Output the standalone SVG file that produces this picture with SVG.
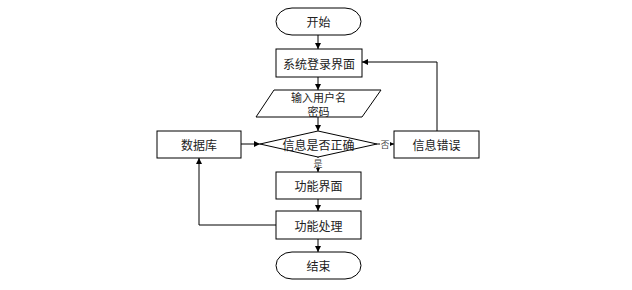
<svg xmlns="http://www.w3.org/2000/svg" width="632" height="290" viewBox="0 0 632 290">
<style>
.s{fill:#fff;stroke:#000;stroke-width:1}
.t{font-family:"Noto Sans CJK SC","Noto Sans",sans-serif;font-size:12px;fill:#222;text-anchor:middle;dominant-baseline:central}
.m{font-size:11px}
.l{font-family:"Noto Sans CJK SC","Noto Sans",sans-serif;font-size:9px;fill:#444;text-anchor:middle;dominant-baseline:central}
.c{fill:none;stroke:#000;stroke-width:1;marker-end:url(#a)}
</style>
<defs>
<marker id="a" markerUnits="userSpaceOnUse" markerWidth="8" markerHeight="8" refX="6" refY="3" orient="auto">
<path d="M0,0 L6,3 L0,6 Z" fill="#000"/>
</marker>
</defs>
<rect width="632" height="290" fill="#fff"/>
<g id="connectors">
<path class="c" d="M318,35 V49"/>
<path class="c" d="M318,77 V90"/>
<path class="c" d="M318,117 V131"/>
<path class="c" d="M318,157 V172"/>
<path class="c" d="M318,199 V211"/>
<path class="c" d="M318,239 V252"/>
<path class="c" d="M241,144 H260"/>
<path class="c" d="M377,144 H394"/>
<path class="c" d="M437,131 V62 H362"/>
<path class="c" d="M276,225 H199 V158"/>
<rect x="313" y="158" width="10" height="10" fill="#fff"/>
<text class="l" x="318" y="163">是</text>
<rect x="380" y="139" width="10" height="10" fill="#fff"/>
<text class="l" x="385" y="144">否</text>
</g>
<g id="start">
<rect class="s" x="276" y="8" width="85" height="27" rx="16" ry="13.5"/>
<text class="t" x="318.5" y="21.5">开始</text>
</g>
<g id="login">
<rect class="s" x="276" y="49" width="86" height="28"/>
<text class="t" x="319" y="63">系统登录界面</text>
</g>
<g id="input">
<polygon class="s" points="274,90 381,90 362,117 256,117"/>
<text class="t m" x="318.5" y="96.5">输入用户名</text>
<text class="t m" x="318.5" y="111">密码</text>
</g>
<g id="check">
<polygon class="s" points="260,144 318,131 377,144 318,157"/>
<text class="t" x="318.5" y="144">信息是否正确</text>
</g>
<g id="db">
<rect class="s" x="157" y="131" width="84" height="27"/>
<text class="t" x="199" y="144">数据库</text>
</g>
<g id="error">
<rect class="s" x="394" y="131" width="85" height="27"/>
<text class="t" x="436.5" y="144">信息错误</text>
</g>
<g id="func">
<rect class="s" x="276" y="172" width="85" height="27"/>
<text class="t" x="318.5" y="185.5">功能界面</text>
</g>
<g id="proc">
<rect class="s" x="276" y="211" width="85" height="28"/>
<text class="t" x="318.5" y="225">功能处理</text>
</g>
<g id="end">
<rect class="s" x="276" y="252" width="85" height="27" rx="16" ry="13.5"/>
<text class="t" x="318.5" y="265.5">结束</text>
</g>
</svg>
